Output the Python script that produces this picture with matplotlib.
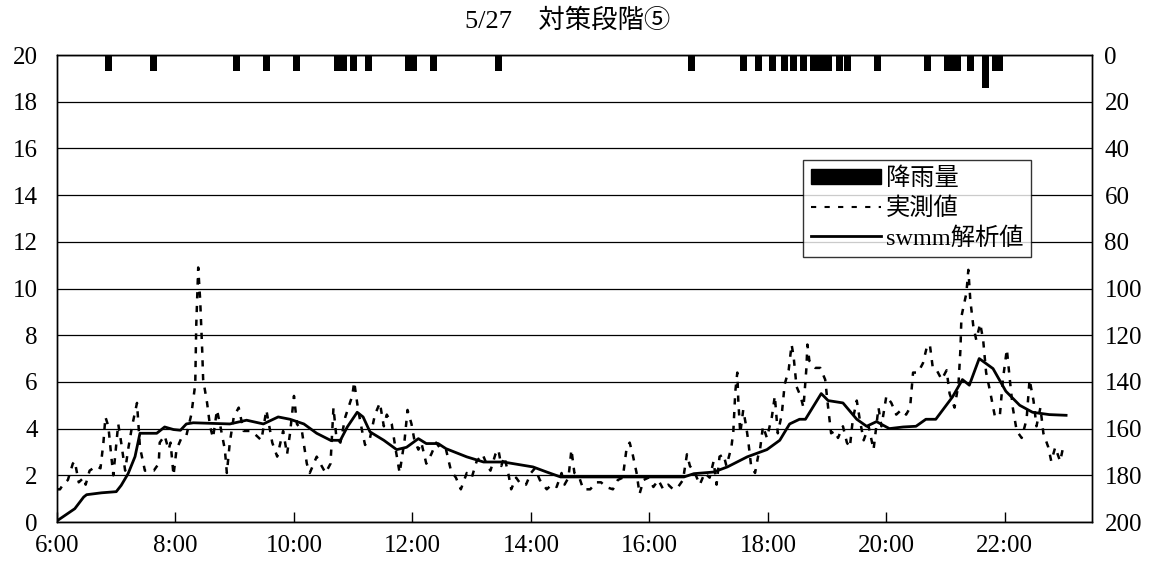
import matplotlib
matplotlib.use("Agg")
import matplotlib.pyplot as plt
from matplotlib.patches import Patch
from matplotlib.lines import Line2D
import numpy as np

plt.rcParams['font.family'] = ['Liberation Serif', 'Noto Sans CJK JP', 'DejaVu Sans']

# ---- data -------------------------------------------------------------
# rainfall (mm) hanging from the top, right axis
rain_time = ["6:52", "7:38", "9:02", "9:32", "10:03", "10:44", "10:50", "11:00",
             "11:15", "11:56", "12:01", "12:21", "13:27", "16:43", "17:35",
             "17:50", "18:05", "18:17", "18:26", "18:36", "18:46", "18:51",
             "18:56", "19:01", "19:13", "19:21", "19:51", "20:42", "21:02",
             "21:07", "21:12", "21:25", "21:40", "21:50", "21:55"]
rain_mm = [7, 7, 7, 7, 7, 7, 7, 7,
           7, 7, 7, 7, 7, 7, 7,
           7, 7, 7, 7, 7, 7, 7,
           7, 7, 7, 7, 7, 7, 7,
           7, 7, 7, 14, 7, 7]

# observed values (dashed)
obs_time = ["6:00", "6:03", "6:06", "6:11", "6:16", "6:18", "6:22", "6:27", "6:29",
            "6:33", "6:40", "6:44", "6:47", "6:49", "6:52", "6:55", "6:57", "7:02",
            "7:05", "7:09", "7:12", "7:16", "7:21", "7:24", "7:29", "7:38", "7:43",
            "7:44", "7:49", "7:53", "7:55", "7:58", "8:01", "8:06", "8:11", "8:16",
            "8:20", "8:21", "8:23", "8:25", "8:27", "8:28", "8:32", "8:35", "8:38",
            "8:42", "8:45", "8:50", "8:52", "8:55", "8:59", "9:04", "9:09", "9:16",
            "9:22", "9:27", "9:32", "9:38", "9:43", "9:49", "9:53", "9:56", "10:00",
            "10:03", "10:08", "10:13", "10:16", "10:23", "10:28", "10:32", "10:37",
            "10:40", "10:43", "10:47", "10:52", "10:59", "11:01", "11:05", "11:09",
            "11:12", "11:17", "11:22", "11:27", "11:31", "11:34", "11:39", "11:43",
            "11:47", "11:52", "11:55", "11:59", "12:02", "12:06", "12:09", "12:14",
            "12:19", "12:24", "12:29", "12:34", "12:39", "12:44", "12:49", "12:55",
            "13:00", "13:05", "13:11", "13:16", "13:19", "13:24", "13:27", "13:30",
            "13:33", "13:37", "13:40", "13:45", "13:50", "13:55", "14:00", "14:04",
            "14:09", "14:16", "14:21", "14:26", "14:31", "14:34", "14:38", "14:41",
            "14:44", "14:49", "14:53", "15:00", "15:06", "15:11", "15:16", "15:23",
            "15:28", "15:33", "15:37", "15:40", "15:43", "15:47", "15:50", "15:54",
            "15:59", "16:04", "16:09", "16:14", "16:19", "16:24", "16:29", "16:34",
            "16:38", "16:41", "16:46", "16:51", "16:56", "17:01", "17:05", "17:08",
            "17:11", "17:15", "17:18", "17:23", "17:25", "17:27", "17:29", "17:30",
            "17:32", "17:35", "17:38", "17:40", "17:43", "17:47", "17:50", "17:52",
            "17:55", "17:59", "18:04", "18:07", "18:10", "18:14", "18:17", "18:21",
            "18:24", "18:26", "18:29", "18:33", "18:36", "18:39", "18:40", "18:42",
            "18:48", "18:53", "18:58", "19:01", "19:04", "19:08", "19:11", "19:16",
            "19:20", "19:23", "19:26", "19:30", "19:33", "19:37", "19:42", "19:47",
            "19:52", "19:55", "20:00", "20:05", "20:10", "20:15", "20:20", "20:24",
            "20:27", "20:32", "20:37", "20:41", "20:44", "20:47", "20:51", "20:56",
            "21:01", "21:04", "21:09", "21:13", "21:15", "21:16", "21:18", "21:21",
            "21:23", "21:25", "21:28", "21:31", "21:35", "21:38", "21:41", "21:45",
            "21:50", "21:55", "21:58", "22:02", "22:05", "22:08", "22:12", "22:17",
            "22:22", "22:25", "22:29", "22:32", "22:36", "22:39", "22:44", "22:47",
            "22:51", "22:56", "22:59"]
obs_val = [1.4, 1.4, 1.6, 1.8, 2.5, 2.6, 1.7, 1.9, 1.6,
           2.2, 2.4, 2.3, 3.4, 4.5, 4.1, 2.8, 2.0, 4.2,
           3.4, 2.2, 3.1, 4.1, 5.1, 3.2, 2.2, 2.2, 2.5,
           3.4, 3.7, 3.1, 3.4, 2.0, 3.1, 3.6, 3.7, 4.6,
           5.9, 8.4, 10.9, 9.5, 7.4, 6.1, 5.1, 4.1, 3.6,
           4.8, 4.2, 3.1, 2.1, 3.4, 4.5, 4.9, 3.9, 3.9,
           3.7, 3.5, 4.8, 3.4, 2.8, 3.9, 2.9, 3.8, 5.4,
           4.2, 3.9, 2.5, 2.1, 2.8, 2.4, 2.1, 2.5,
           4.9, 3.6, 3.4, 4.5, 5.4, 6.0, 4.8, 3.9,
           3.3, 3.6, 4.6, 5.1, 4.1, 4.6, 4.2, 3.1,
           2.1, 3.5, 4.8, 4.2, 3.5, 3.1, 3.4, 2.5,
           2.9, 3.4, 3.1, 3.1, 2.2, 1.9, 1.4, 2.1,
           1.9, 2.6, 2.9, 2.4, 2.2, 2.9, 3.1, 2.4,
           2.8, 2.1, 1.4, 1.9, 1.6, 1.6, 2.1, 2.3,
           1.8, 1.4, 1.6, 1.5, 2.1, 1.6, 1.9, 3.1,
           2.1, 1.9, 1.4, 1.4, 1.7, 1.7, 1.5, 1.4,
           1.8, 1.9, 3.2, 3.4, 2.9, 2.1, 1.2, 1.8,
           1.9, 1.5, 1.8, 1.4, 1.6, 1.4, 1.5, 1.8,
           2.9, 2.4, 2.1, 1.6, 2.1, 1.9, 2.6, 1.6,
           2.8, 2.9, 2.4, 3.2, 3.9, 5.6, 6.4, 5.2,
           3.8, 4.8, 4.1, 3.5, 2.4, 2.1, 2.8, 3.1,
           4.1, 3.6, 4.5, 5.4, 3.8, 4.6, 5.9, 6.5,
           7.6, 7.1, 5.8, 5.4, 4.9, 6.6, 7.6, 6.9,
           6.6, 6.6, 6.1, 4.9, 3.8, 3.9, 3.6, 4.1,
           3.4, 3.2, 4.4, 5.2, 4.4, 3.5, 4.1, 3.1,
           4.9, 4.1, 5.4, 5.1, 4.6, 4.8, 4.6, 4.9,
           6.4, 6.4, 6.8, 7.5, 7.6, 6.6, 6.5, 6.1,
           6.5, 5.5, 4.9, 5.9, 7.4, 8.8, 9.2, 9.8,
           10.8, 9.5, 8.4, 7.8, 8.5, 7.8, 6.4, 5.6,
           4.5, 4.6, 6.1, 7.4, 6.1, 4.9, 3.9, 3.6,
           4.4, 6.1, 5.2, 4.1, 4.9, 3.8, 3.2, 2.6,
           3.2, 2.6, 3.2]

# SWMM simulated values (solid)
sim_time = ["6:00", "6:18", "6:27", "6:30", "6:45", "7:00", "7:05", "7:12", "7:19",
            "7:24", "7:41", "7:49", "7:58", "8:05", "8:11", "8:18", "8:55", "9:12",
            "9:29", "9:44", "9:56", "10:10", "10:23", "10:37", "10:47", "10:54",
            "11:04", "11:10", "11:17", "11:31", "11:44", "11:54", "12:06", "12:14",
            "12:26", "12:34", "12:55", "13:12", "13:32", "14:02", "14:16", "14:30",
            "16:35", "16:45", "17:05", "17:19", "17:39", "17:59", "18:12", "18:22",
            "18:32", "18:38", "18:54", "19:01", "19:16", "19:30", "19:40", "19:50",
            "20:03", "20:17", "20:30", "20:40", "20:50", "21:07", "21:17", "21:24",
            "21:34", "21:48", "22:01", "22:15", "22:28", "22:45", "23:02"]
sim_val = [0.05, 0.57, 1.07, 1.17, 1.25, 1.3, 1.57, 2.07, 2.8,
           3.8, 3.8, 4.07, 3.96, 3.93, 4.2, 4.25, 4.2, 4.36,
           4.2, 4.5, 4.4, 4.2, 3.8, 3.5, 3.5, 4.07,
           4.7, 4.5, 3.86, 3.5, 3.1, 3.2, 3.57, 3.36,
           3.36, 3.14, 2.79, 2.57, 2.57, 2.36, 2.14, 1.93,
           1.93, 2.07, 2.14, 2.36, 2.79, 3.1, 3.5, 4.2,
           4.4, 4.4, 5.5, 5.2, 5.1, 4.4, 4.1, 4.3,
           4.0, 4.07, 4.1, 4.4, 4.4, 5.36, 6.1, 5.86,
           7.0, 6.57, 5.6, 5.0, 4.7, 4.6, 4.57]

hour_ticks = [6, 8, 10, 12, 14, 16, 18, 20, 22]
left_ticks = [0, 2, 4, 6, 8, 10, 12, 14, 16, 18, 20]
right_ticks = [0, 20, 40, 60, 80, 100, 120, 140, 160, 180, 200]


def to_hours(stamps):
    out = []
    for s in stamps:
        h, m = s.split(":")
        out.append(int(h) + int(m) / 60.0)
    return np.array(out)


fig = plt.figure(figsize=(11.66, 5.72), dpi=100)
ax = fig.add_axes([0.0489, 0.0874, 0.8876, 0.8164])
ax2 = ax.twinx()

obs_style = (0, (2.5, 3.0))

# water level lines
ax.plot(to_hours(obs_time), obs_val, color="black", lw=1.8,
        linestyle=obs_style, zorder=3)
ax.plot(to_hours(sim_time), sim_val, color="black", lw=2.0, zorder=4)

ax.set_xlim(6, 23.47)
ax.set_ylim(0, 20)
ax.set_yticks(left_ticks)
ax.set_xticks(hour_ticks)
ax.set_xticklabels([f"{h}:00" for h in hour_ticks])
ax.grid(axis="y", color="black", lw=0.9, zorder=0)
ax.set_axisbelow(True)

# rainfall bars from the top
ax2.bar(to_hours(rain_time), rain_mm, width=0.118, color="black", zorder=5)
ax2.set_ylim(200, 0)
ax2.set_yticks(right_ticks)

for a in (ax, ax2):
    for sp in a.spines.values():
        sp.set_color("black")
        sp.set_linewidth(1.0)

ax.tick_params(axis="x", direction="in", length=7, width=1, pad=9, labelsize=18)
ax.tick_params(axis="y", direction="out", length=0, pad=14, labelsize=18)
ax2.tick_params(axis="y", direction="out", length=0, pad=9, labelsize=18)

fig.text(0.487, 0.963, "5/27\u3000対策段階⑤", ha="center", va="center", fontsize=19)

handles = [Patch(facecolor="black", edgecolor="black"),
           Line2D([], [], color="black", lw=1.5, linestyle=(0, (2.5, 4.0))),
           Line2D([], [], color="black", lw=2.0)]
labels = ["降雨量", "実測値", "swmm解析値"]
leg = ax2.legend(handles, labels, loc="upper left", bbox_to_anchor=(0.721, 0.775),
                 fontsize=17.5, frameon=True, fancybox=False, shadow=False,
                 handlelength=2.9, handleheight=0.6, handletextpad=0.2,
                 labelspacing=0.3, borderpad=0.3, borderaxespad=0)
leg.get_frame().set_edgecolor("black")
leg.get_frame().set_linewidth(1.0)
leg.set_zorder(10)

fig.savefig("out.png", dpi=100)
